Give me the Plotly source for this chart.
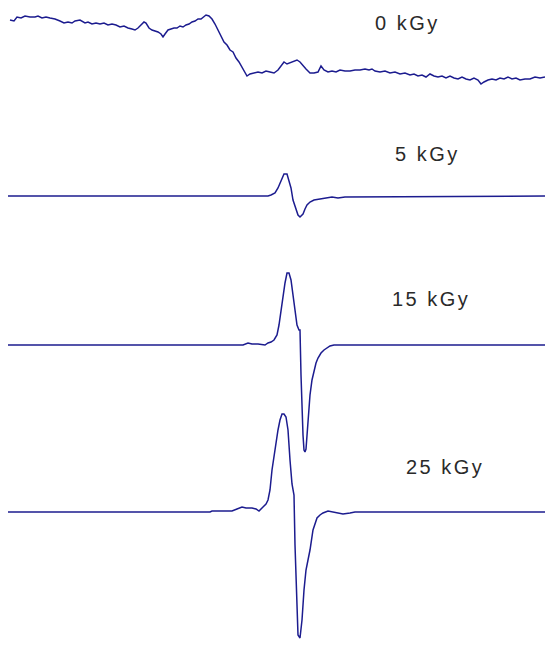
import plotly.graph_objects as go

# EPR first-derivative spectra of irradiated samples, stacked by dose.
# x: field position (a.u.), amplitudes in a.u. (positive = up), each relative to its own baseline.

dose_labels = ["0 kGy", "5 kGy", "15 kGy", "25 kGy"]

x_0 = [10, 14, 17, 21, 25, 30, 35, 38, 42, 46, 50, 55, 60, 64, 68, 72, 75, 80, 85, 88, 92, 96, 100, 104,
       108, 112, 116, 120, 124, 128, 132, 135, 138, 141, 144, 146, 149, 152, 155, 158, 161, 163, 165,
       168, 171, 174, 177, 180, 183, 186, 189, 192, 195, 198, 201, 204, 206, 209, 212, 215, 218, 221,
       224, 227, 230, 233, 236, 239, 242, 245, 247, 250, 254, 258, 262, 266, 270, 274, 278, 281, 284,
       287, 290, 294, 297, 300, 303, 306, 310, 314, 318, 321, 324, 328, 332, 336, 340, 345, 350, 355,
       360, 365, 369, 372, 375, 380, 385, 390, 395, 400, 405, 410, 414, 418, 422, 426, 430, 434, 438,
       442, 446, 450, 454, 458, 462, 466, 470, 474, 478, 481, 484, 488, 492, 496, 500, 504, 508, 512,
       516, 520, 525, 530, 535, 540, 545]
amp_0 = [30, 29, 33, 32, 34, 33, 33, 34, 32, 33, 32, 31, 29, 27, 28, 27, 29, 30, 27, 28, 26, 27, 26, 27,
         25, 26, 25, 23, 24, 22, 21, 20, 22, 25, 28, 27, 22, 20, 19, 18, 16, 13, 16,
         20, 21, 22, 22, 24, 23, 25, 26, 28, 29, 31, 31, 34, 35, 34, 31, 26, 20, 13,
         8, 5, 0, -2, -8, -12, -17, -23, -26, -24, -23, -22, -23, -21, -22, -23, -20, -16, -12,
         -14, -13, -11, -10, -12, -16, -19, -23, -23, -22, -16, -20, -22, -21, -22, -20, -21, -21, -20,
         -20, -19, -20, -19, -21, -22, -21, -23, -22, -24, -23, -25, -24, -26, -25, -27, -24, -26, -27,
         -26, -28, -26, -28, -29, -27, -29, -30, -28, -30, -34, -32, -30, -29, -30, -28, -29, -27, -29,
         -28, -30, -29, -29, -27, -28, -27]

x_5 = [8, 268, 271, 275, 278, 281, 284, 287, 289, 291, 293, 296, 298, 300, 303, 305, 307, 310, 314,
       320, 326, 332, 338, 345, 545]
amp_5 = [0, 0, 1, 3, 8, 15, 22, 22, 16, 8, -4, -14, -19, -21, -18, -13, -9, -6, -4,
         -3, -2, -1, -2, -1, 0]

x_15 = [8, 243, 248, 252, 258, 265, 268, 271, 274, 277, 279, 281, 283, 285, 287, 289, 291, 293, 295,
        297, 299, 300, 301, 302, 303, 304, 305, 306, 307, 308, 310, 312, 314, 316, 318, 321, 324, 327,
        330, 334, 340, 357, 545]
amp_15 = [0, 0, 2, 1, 1, 0, 2, 3, 5, 10, 20, 35, 50, 62, 72, 72, 65, 50, 33,
          20, 15, 15, -30, -65, -90, -105, -107, -104, -90, -70, -50, -35, -25, -18, -13, -8, -5, -3,
          -1, 0, 0, 0, 0]

x_25 = [8, 210, 212, 232, 237, 242, 246, 252, 256, 259, 263, 266, 268, 270, 272, 274, 276, 278, 280,
        282, 284, 286, 288, 289, 290, 292, 294, 295, 296, 297, 298, 300, 302, 304, 306, 308, 310, 313,
        317, 320, 323, 328, 333, 338, 343, 350, 355, 545]
amp_25 = [0, 0, 1, 1, 3, 5, 4, 4, 3, 1, 5, 8, 12, 22, 42, 57, 67, 82, 92,
          98, 98, 95, 82, 65, 52, 28, 17, -33, -68, -98, -123, -126, -108, -78, -58, -48, -38, -18,
          -6, -3, -1, 1, 0, -1, -2, -1, 0, 0]

xs = [x_0, x_5, x_15, x_25]
amps = [amp_0, amp_5, amp_15, amp_25]

# vertical stacking: baseline of each spectrum (plot units, top of page = 0)
baselines = [-50, -196, -345, -512]
label_pos = [(407, -23), (427, -154), (431, -299), (445, -467)]

line_color = "#1c1c8f"

fig = go.Figure()
for x, a, b in zip(xs, amps, baselines):
    fig.add_trace(go.Scatter(
        x=x, y=[b + v for v in a], mode="lines",
        line=dict(color=line_color, width=1.5, shape="linear"),
        showlegend=False, hoverinfo="skip"))

for text, (lx, ly) in zip(dose_labels, label_pos):
    fig.add_annotation(x=lx, y=ly,
                       text='<span style="letter-spacing:2.5px">' + text + '</span>',
                       showarrow=False,
                       font=dict(family="Liberation Sans, Arial, sans-serif", size=20, color="#2a2a2a"),
                       xanchor="center", yanchor="middle")

fig.update_layout(
    width=545, height=645,
    margin=dict(l=0, r=0, t=0, b=0),
    paper_bgcolor="white", plot_bgcolor="white",
    xaxis=dict(range=[0, 545], visible=False, fixedrange=True),
    yaxis=dict(range=[-645, 0], visible=False, fixedrange=True),
)

fig.write_html("out.html")
